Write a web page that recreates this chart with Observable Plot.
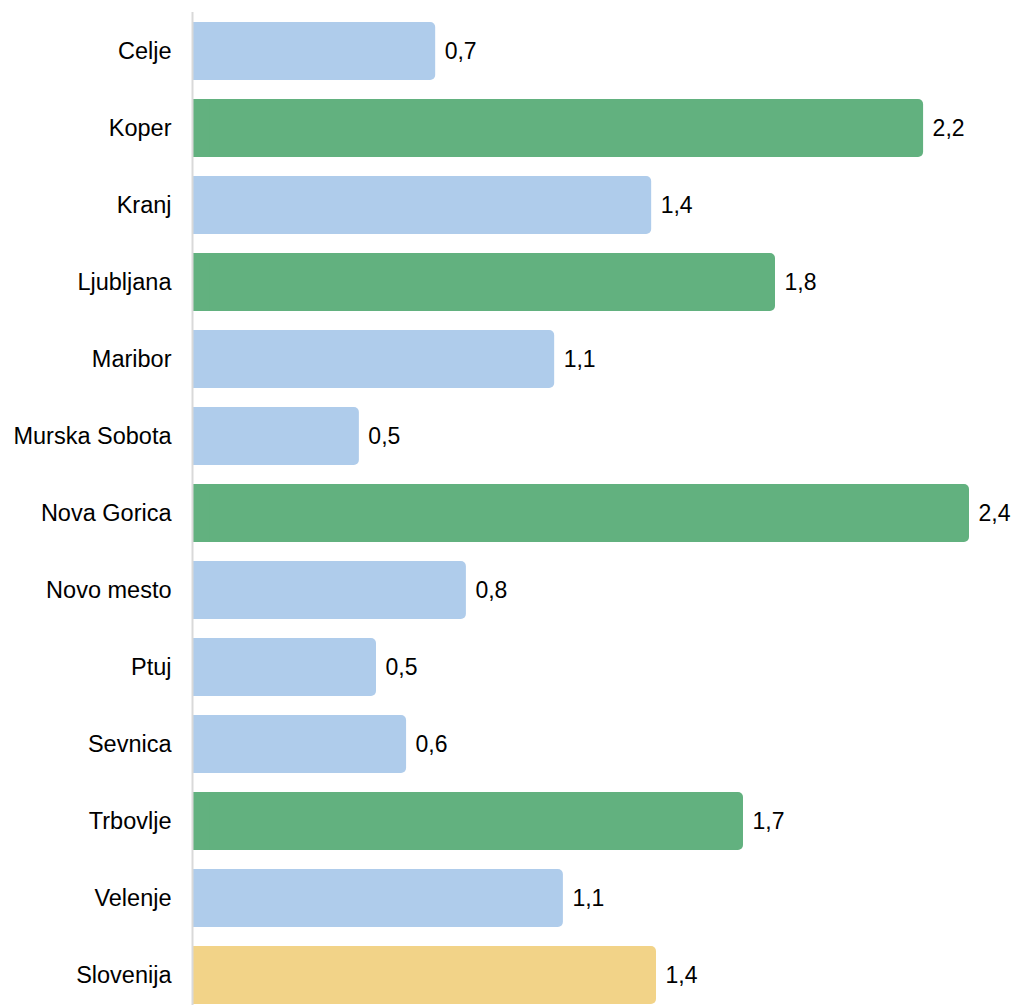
<!DOCTYPE html>
<html>
<head>
<meta charset="utf-8">
<script src="https://cdn.jsdelivr.net/npm/d3@7"></script>
<script src="https://cdn.jsdelivr.net/npm/@observablehq/plot@0.6"></script>
<style>
  html, body { margin: 0; padding: 0; background: #fff; overflow: hidden; }
  #chart svg { display: block; }
</style>
</head>
<body>
<div id="chart"></div>
<script>
const categories = ["Celje", "Koper", "Kranj", "Ljubljana", "Maribor", "Murska Sobota", "Nova Gorica", "Novo mesto", "Ptuj", "Sevnica", "Trbovlje", "Velenje", "Slovenija"];
const values = [0.749, 2.258, 1.417, 1.800, 1.117, 0.513, 2.400, 0.844, 0.566, 0.659, 1.701, 1.144, 1.432];
const valueLabels = ["0,7", "2,2", "1,4", "1,8", "1,1", "0,5", "2,4", "0,8", "0,5", "0,6", "1,7", "1,1", "1,4"];
const groups = ["other", "high", "other", "high", "other", "other", "high", "other", "other", "other", "high", "other", "total"];

const data = categories.map((c, i) => ({ name: c, value: values[i], label: valueLabels[i], group: groups[i] }));

const colorScale = { domain: ["other", "high", "total"], range: ["#afcceb", "#62b17f", "#f2d388"] };

const chart = Plot.plot({
  width: 1015,
  height: 1014,
  marginTop: 12,
  marginBottom: 0,
  marginLeft: 193,
  marginRight: 46,
  style: { fontFamily: "'Liberation Sans', Arial, sans-serif", fontSize: "23px", color: "#000", background: "#fff" },
  x: { domain: [0, 2.4], axis: null },
  y: { domain: categories, paddingInner: 0.25, paddingOuter: 0.125, axis: null },
  color: colorScale,
  marks: [
    Plot.barX(data, { y: "name", x: "value", fill: "group", rx: 5 }),
    Plot.barX(data, { y: "name", x1: 0, x2: d => Math.min(d.value, 0.05), fill: "group" }),
    Plot.ruleX([0], { stroke: "#d9d9d9", strokeWidth: 2, dx: -1 }),
    Plot.axisY({ tickSize: 0, tickPadding: 22, fontSize: 23.5, fill: "#000", label: null }),
    Plot.text(data, { y: "name", x: "value", text: "label", textAnchor: "start", dx: 9, fill: "#000", fontSize: 23 })
  ]
});

document.getElementById("chart").appendChild(chart);
</script>
</body>
</html>
